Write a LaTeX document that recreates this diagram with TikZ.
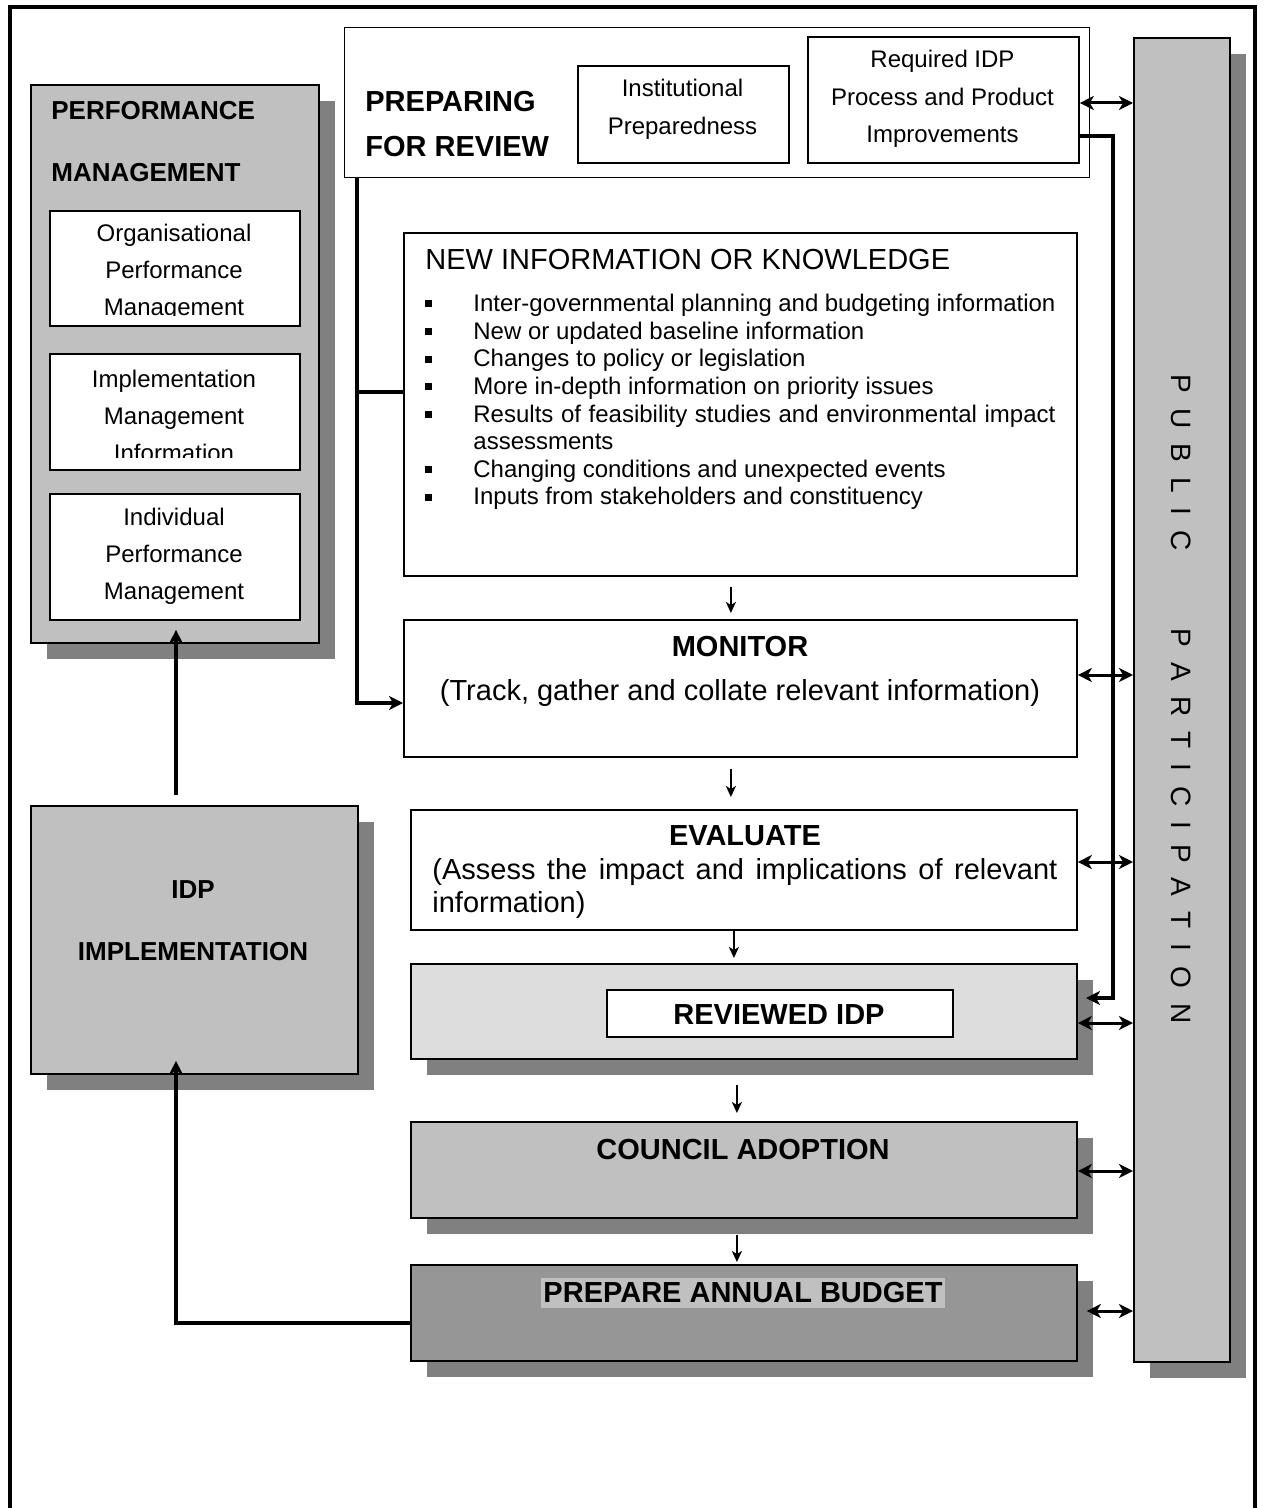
\documentclass[tikz,border=0pt]{standalone}
\usepackage{fontspec}
\setmainfont{Liberation Sans}
\usetikzlibrary{arrows.meta,shadows}

\definecolor{boxgray}{HTML}{C0C0C0}
\definecolor{shadegray}{HTML}{808080}
\definecolor{palegray}{HTML}{DDDDDD}
\definecolor{budgetgray}{HTML}{969696}

\newcommand{\lgap}{\hspace{7.5pt}}
\newcommand{\sqbullet}{\noindent\leavevmode\llap{\rule[2.2pt]{3.5pt}{3.5pt}\hspace{20.5pt}}}

\begin{document}
\begin{tikzpicture}[
  x=0.5pt, y=-0.5pt,
  shadedbox/.style={%
    rectangle,%
    draw=black,%
    line width=0.9pt,%
    fill=boxgray,%
    anchor=north west,%
    inner sep=0pt,%
    drop shadow={shadow xshift=8pt,shadow yshift=-8pt,fill=shadegray,opacity=1}%
  },
  plainbox/.style={%
    rectangle,%
    draw=black,%
    line width=0.9pt,%
    fill=white,%
    anchor=north west,%
    inner sep=0pt%
  },
  headtext/.style={font=\fontsize{14.5}{17}\selectfont\bfseries, inner sep=0pt},
  sidehead/.style={font=\fontsize{13}{15}\selectfont\bfseries, inner sep=0pt},
  bodytext/.style={font=\fontsize{12}{18.5}\selectfont, align=center, inner sep=0pt},
  bigtext/.style={font=\fontsize{14.5}{16.5}\selectfont, inner sep=0pt},
  conn/.style={line width=1.8pt},
  dblarrow/.style={line width=1.5pt,%
    {Stealth[length=7pt,width=7pt,inset=2pt]}-{Stealth[length=7pt,width=7pt,inset=2pt]}},
  downarrow/.style={line width=1.1pt, -{Stealth[length=5.5pt,width=5pt,inset=1.5pt]}}
]

  \useasboundingbox (0,0) rectangle (1264,1508);
  \draw[line width=2pt] (10,1508) -- (10,7) -- (1255,7) -- (1255,1508);

  % performance management
  \node [shadedbox, minimum width=144pt, minimum height=279pt] (pm) at (30,84) {};
  \node [sidehead, anchor=west] (pmhead1) at (51,111) {PERFORMANCE};
  \node [sidehead, anchor=west] (pmhead2) at (51,173) {MANAGEMENT};
  \node [plainbox, minimum width=125pt, minimum height=57.5pt] (orgpm) at (49,210) {};
  \node [plainbox, minimum width=125pt, minimum height=58pt] (implmi) at (49,353) {};
  \node [plainbox, minimum width=125pt, minimum height=63pt] (indpm) at (49,493) {};
  \begin{scope}
    \clip (49,210) rectangle (299,316);
    \node [bodytext] (orgpmtext) at (174,272) {Organisational\\Performance\\Management};
  \end{scope}
  \begin{scope}
    \clip (49,353) rectangle (299,457);
    \node [bodytext] (implmitext) at (174,416) {Implementation\\Management\\Information};
  \end{scope}
  \node [bodytext] (indpmtext) at (174,556) {Individual\\Performance\\Management};

  % IDP implementation
  \node [shadedbox, minimum width=163.5pt, minimum height=134pt] (impl) at (30,805) {};
  \node [sidehead] (implhead1) at (193,890) {IDP};
  \node [sidehead] (implhead2) at (193,952) {IMPLEMENTATION};

  % preparing for review
  \node [plainbox, line width=0.6pt, minimum width=372.5pt, minimum height=75pt] (prep) at (344,27) {};
  \node [headtext, anchor=west, align=left, font=\fontsize{14.5}{22.5}\selectfont\bfseries] (prephead) at (365,124) {PREPARING\\FOR REVIEW};
  \node [plainbox, minimum width=105.5pt, minimum height=48.5pt] (inst) at (577,65) {};
  \node [bodytext, font=\fontsize{12}{19}\selectfont] (insttext) at (682.5,109) {Institutional\\Preparedness};
  \node [plainbox, minimum width=135.5pt, minimum height=63pt] (req) at (807,36) {};
  \node [bodytext, font=\fontsize{12}{18.75}\selectfont] (reqtext) at (942.5,99) {Required IDP\\Process and Product\\Improvements};

  % public participation
  \node [shadedbox, minimum width=48pt, minimum height=662pt] (pub) at (1133,37) {};
  \node [font=\fontsize{14}{16}\selectfont, rotate=-90, inner sep=0pt] (pubtext) at (1181,699)
    {P\lgap U\lgap B\lgap L\lgap I\lgap C\hspace{39pt}P\lgap A\lgap R\lgap T\lgap I\lgap C\lgap I\lgap P\lgap A\lgap T\lgap I\lgap O\lgap N};

  % new information
  \node [plainbox, minimum width=336.5pt, minimum height=171.5pt] (newinfo) at (403,232) {};
  \node [bigtext, anchor=west] (newinfohead) at (425,260) {NEW INFORMATION OR KNOWLEDGE};
  \node [anchor=north west, inner sep=0pt, text width=291pt, align=justify,
         font=\fontsize{12}{13.8}\selectfont] (newinfolist) at (473,294) {%
    \sqbullet Inter-governmental planning and budgeting information\par
    \sqbullet New or updated baseline information\par
    \sqbullet Changes to policy or legislation\par
    \sqbullet More in-depth information on priority issues\par
    \sqbullet Results of feasibility studies and environmental impact assessments\par
    \sqbullet Changing conditions and unexpected events\par
    \sqbullet Inputs from stakeholders and constituency};

  % monitor
  \node [plainbox, minimum width=336.5pt, minimum height=68.5pt] (monitor) at (403,619) {};
  \node [headtext] (monitorhead) at (740,647) {MONITOR};
  \node [bigtext] (monitortext) at (740,693) {(Track, gather and collate relevant information)};

  % evaluate
  \node [plainbox, minimum width=333pt, minimum height=60pt] (evaluate) at (410,809) {};
  \node [headtext] (evaluatehead) at (745,836) {EVALUATE};
  \node [bigtext, anchor=north west, text width=312.5pt, align=justify] (evaluatetext) at (432,858)
    {(Assess the impact and implications of relevant information)};

  % reviewed IDP
  \node [shadedbox, fill=palegray, minimum width=333pt, minimum height=47.5pt] (reviewed) at (410,963) {};
  \node [plainbox, minimum width=173pt, minimum height=23.5pt] (revidp) at (606,989) {};
  \node [headtext] (revidptext) at (779,1015) {REVIEWED IDP};

  % council adoption
  \node [shadedbox, minimum width=333pt, minimum height=48pt] (council) at (410,1121) {};
  \node [headtext] (councilhead) at (743,1150) {COUNCIL ADOPTION};

  % annual budget
  \node [shadedbox, fill=budgetgray, minimum width=333pt, minimum height=48pt] (budget) at (410,1264) {};
  \node [headtext, fill=boxgray, inner xsep=1pt, inner ysep=2.5pt] (budgethead) at (743,1293) {PREPARE ANNUAL BUDGET};

  % flow down the middle
  \draw[downarrow, shorten <=5pt, shorten >=3pt] ([xshift=-4.75pt]newinfo.south) -- ([xshift=-4.75pt]newinfo.south |- monitor.north);
  \draw[downarrow, shorten <=5.5pt, shorten >=6pt] ([xshift=-4.75pt]monitor.south) -- ([xshift=-4.75pt]monitor.south |- evaluate.north);
  \draw[downarrow, shorten >=2.5pt] ([xshift=-5pt]evaluate.south) -- ([xshift=-5pt]evaluate.south |- reviewed.north);
  \draw[downarrow, shorten <=12.5pt, shorten >=4pt] ([xshift=-3.5pt]reviewed.south) -- ([xshift=-3.5pt]reviewed.south |- council.north);
  \draw[downarrow, shorten <=8pt, shorten >=1pt] ([xshift=-3.5pt]council.south) -- ([xshift=-3.5pt]council.south |- budget.north);

  % left side
  \draw[conn, -{Stealth[length=7pt,width=7pt,inset=2pt]}] (prep.south -| 357,0) -- (357,703) -- (monitor.west |- 0,703);
  \draw[conn] (357,392) -- (newinfo.west |- 0,392);
  \draw[conn, -{Stealth[length=7pt,width=7pt,inset=2pt]}, shorten <=5pt, shorten >=-7pt] (impl.north -| 176,0) -- (pm.south -| 176,0);
  \draw[conn, -{Stealth[length=7pt,width=7pt,inset=2pt]}, shorten >=-7pt] (budget.west |- 0,1323) -| (impl.south -| 176,0);

  % right side
  \coordinate (revin) at (1086,998);
  \draw[conn, -{Stealth[length=7pt,width=7pt,inset=2pt]}] (req.east |- 0,136) -- (1113,136) -- (1113,998) -- (revin);
  \draw[dblarrow] (req.east |- 0,103) -- (pub.west |- 0,103);
  \draw[dblarrow] (monitor.east |- 0,675) -- (pub.west |- 0,675);
  \draw[dblarrow] (evaluate.east |- 0,862) -- (pub.west |- 0,862);
  \draw[dblarrow] (reviewed.east |- 0,1023) -- (pub.west |- 0,1023);
  \draw[dblarrow] (council.east |- 0,1171) -- (pub.west |- 0,1171);
  \draw[dblarrow, shorten <=4.5pt] (budget.east |- 0,1311) -- (pub.west |- 0,1311);

\end{tikzpicture}
\end{document}
